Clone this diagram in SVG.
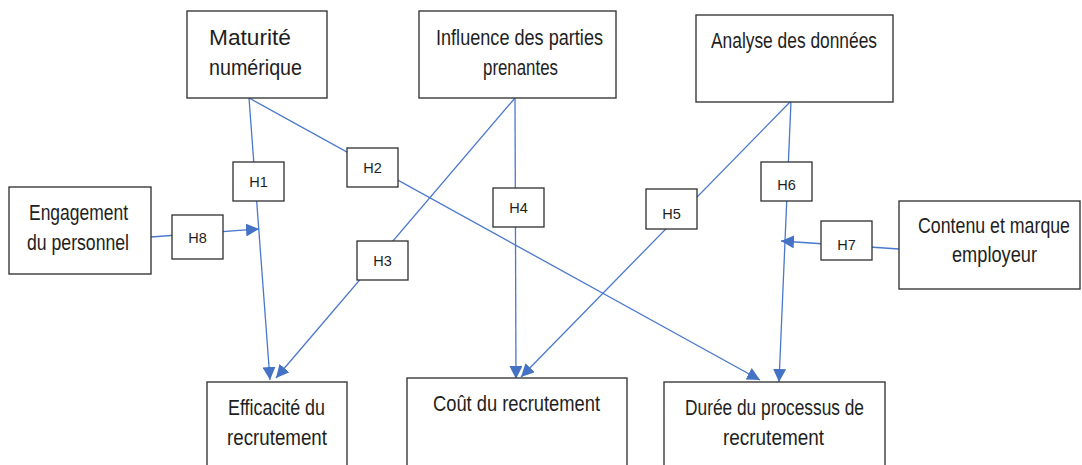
<svg xmlns="http://www.w3.org/2000/svg" width="1082" height="465" viewBox="0 0 1082 465">
<style>
.box{fill:#fff;stroke:#3a3a3a;stroke-width:1.4}
.lbl{fill:#fff;stroke:#2e2e2e;stroke-width:1.3}
.t{font-family:"Liberation Sans",Arial,sans-serif;font-size:22px;fill:#1e1e1e}
.h{font-family:"Liberation Sans",Arial,sans-serif;font-size:14.5px;fill:#1e1e1e;text-anchor:middle}
.c{stroke:#4a78cc;stroke-width:1.3;fill:none}
</style>
<defs>
<marker id="a" viewBox="0 0 13 13" refX="13" refY="6.5" markerWidth="13" markerHeight="13" markerUnits="userSpaceOnUse" orient="auto">
<path d="M0,0 L13,6.5 L0,13 Z" fill="#4472c4"/>
</marker>
</defs>
<rect width="1082" height="465" fill="#fff"/>
<g id="connectors">
<line class="c" x1="249" y1="98" x2="270" y2="380" marker-end="url(#a)"/>
<line class="c" x1="249" y1="98" x2="760" y2="380" marker-end="url(#a)"/>
<line class="c" x1="515" y1="98" x2="276" y2="378" marker-end="url(#a)"/>
<line class="c" x1="515" y1="98" x2="516" y2="379" marker-end="url(#a)"/>
<line class="c" x1="791" y1="101" x2="521" y2="377" marker-end="url(#a)"/>
<line class="c" x1="791" y1="101" x2="779" y2="382" marker-end="url(#a)"/>
<line class="c" x1="899" y1="249" x2="781" y2="241" marker-end="url(#a)"/>
<line class="c" x1="151" y1="237" x2="259" y2="229" marker-end="url(#a)"/>
</g>
<g id="maturite">
<rect class="box" x="187" y="11" width="140" height="87"/>
<text class="t" x="209" y="45" textLength="82" lengthAdjust="spacingAndGlyphs">Maturité</text>
<text class="t" x="209" y="75" textLength="93" lengthAdjust="spacingAndGlyphs">numérique</text>
</g>
<g id="influence">
<rect class="box" x="419" y="11" width="197" height="87"/>
<text class="t" x="436" y="45" textLength="167" lengthAdjust="spacingAndGlyphs">Influence des parties</text>
<text class="t" x="483" y="75" textLength="75" lengthAdjust="spacingAndGlyphs">prenantes</text>
</g>
<g id="analyse">
<rect class="box" x="696" y="15" width="197" height="87"/>
<text class="t" x="711" y="48" textLength="166" lengthAdjust="spacingAndGlyphs">Analyse des données</text>
</g>
<g id="engagement">
<rect class="box" x="9" y="187" width="142" height="87"/>
<text class="t" x="29" y="220" textLength="99" lengthAdjust="spacingAndGlyphs">Engagement</text>
<text class="t" x="27" y="250" textLength="102" lengthAdjust="spacingAndGlyphs">du personnel</text>
</g>
<g id="contenu">
<rect class="box" x="899" y="201" width="181" height="88"/>
<text class="t" x="918" y="233" textLength="152" lengthAdjust="spacingAndGlyphs">Contenu et marque</text>
<text class="t" x="952" y="262" textLength="85" lengthAdjust="spacingAndGlyphs">employeur</text>
</g>
<g id="efficacite">
<rect class="box" x="207" y="382" width="140" height="90"/>
<text class="t" x="228" y="415" textLength="97" lengthAdjust="spacingAndGlyphs">Efficacité du</text>
<text class="t" x="227" y="445" textLength="100" lengthAdjust="spacingAndGlyphs">recrutement</text>
</g>
<g id="cout">
<rect class="box" x="407" y="378" width="220" height="94"/>
<text class="t" x="433" y="411" textLength="167" lengthAdjust="spacingAndGlyphs">Coût du recrutement</text>
</g>
<g id="duree">
<rect class="box" x="664" y="382" width="221" height="90"/>
<text class="t" x="685" y="415" textLength="179" lengthAdjust="spacingAndGlyphs">Durée du processus de</text>
<text class="t" x="723" y="445" textLength="101" lengthAdjust="spacingAndGlyphs">recrutement</text>
</g>
<g id="H1"><rect class="lbl" x="233" y="162" width="51" height="39"/><text class="h" x="258.5" y="187">H1</text></g>
<g id="H2"><rect class="lbl" x="347" y="148" width="51" height="39"/><text class="h" x="372.5" y="173">H2</text></g>
<g id="H3"><rect class="lbl" x="357" y="241" width="51" height="39"/><text class="h" x="382.5" y="266">H3</text></g>
<g id="H4"><rect class="lbl" x="493" y="188" width="51" height="39"/><text class="h" x="518.5" y="213">H4</text></g>
<g id="H5"><rect class="lbl" x="646" y="189" width="51" height="40"/><text class="h" x="671.5" y="219">H5</text></g>
<g id="H6"><rect class="lbl" x="761" y="162" width="51" height="39"/><text class="h" x="786.5" y="190">H6</text></g>
<g id="H7"><rect class="lbl" x="821" y="221" width="51" height="39"/><text class="h" x="846.5" y="250">H7</text></g>
<g id="H8"><rect class="lbl" x="172" y="215" width="51" height="44"/><text class="h" x="197.5" y="243">H8</text></g>
</svg>
